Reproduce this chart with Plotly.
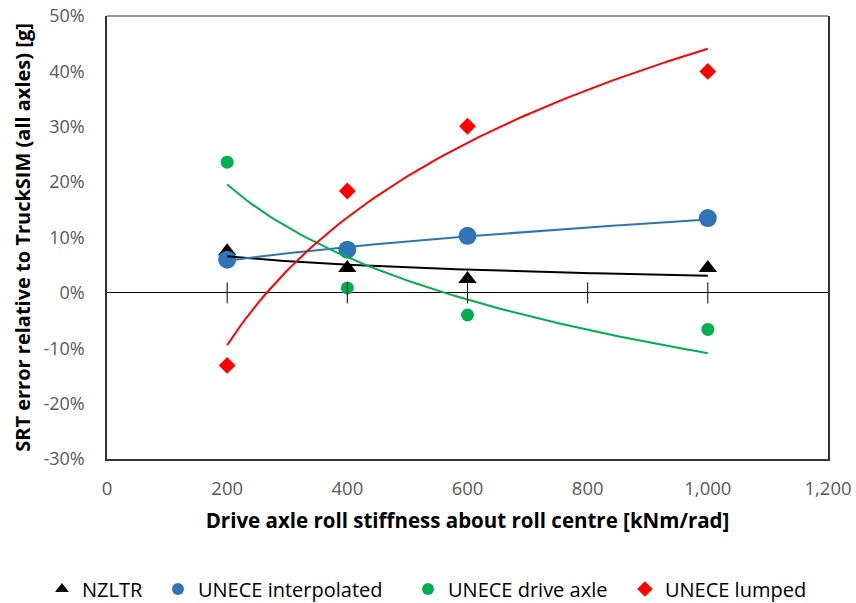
import numpy as np
import plotly.graph_objects as go

# Data (SRT error, %)
stiffness = [200, 400, 600, 1000]
nzltr = [7.5, 4.5, 2.5, 4.5]
unece_interp = [6.0, 7.8, 10.3, 13.5]
unece_drive = [23.6, 0.9, -4.0, -6.6]
unece_lumped = [-13.1, 18.4, 30.1, 40.0]

series_names = ["NZLTR", "UNECE interpolated", "UNECE drive axle", "UNECE lumped"]
trend_types = ["log", "power", "log", "log"]

x_ticks = [0, 200, 400, 600, 800, 1000, 1200]
x_tick_labels = ["0", "200", "400", "600", "800", "1,000", "1,200"]
y_ticks = [-30, -20, -10, 0, 10, 20, 30, 40, 50]
y_tick_labels = [f"{v}%" for v in y_ticks]

colors = ["#000000", "#2E75B6", "#00B050", "#FF0000"]
symbols = ["triangle-up", "circle", "circle", "diamond"]
sizes = [16, 18, 13, 13]
legend_ids = ["legend", "legend2", "legend3", "legend4"]
legend_x = [-0.0902, 0.0707, 0.4175, 0.7184]

FONT = "'Open Sans', Lato, sans-serif"


def trend(xs, ys, kind):
    xs = np.asarray(xs, float)
    ys = np.asarray(ys, float)
    xx = np.linspace(xs.min(), xs.max(), 100)
    if kind == "power":
        b, a = np.polyfit(np.log(xs), np.log(ys), 1)
        return xx, np.exp(a) * xx ** b
    a, b = np.polyfit(np.log(xs), ys, 1)
    return xx, a * np.log(xx) + b


data = [nzltr, unece_interp, unece_drive, unece_lumped]
fig = go.Figure()

for name, ys, c, s, sz, lg in zip(series_names, data, colors, symbols, sizes, legend_ids):
    fig.add_trace(go.Scatter(
        x=stiffness, y=ys, mode="markers", name=name, legend=lg,
        marker=dict(symbol=s, size=sz, color=c, line=dict(width=0)),
    ))

for ys, c, k in zip(data, colors, trend_types):
    xx, yy = trend(stiffness, ys, k)
    fig.add_trace(go.Scatter(x=xx, y=yy, mode="lines", showlegend=False,
                             line=dict(color=c, width=2), hoverinfo="skip"))

# tick marks crossing the zero line
fig.add_trace(go.Scatter(
    x=x_ticks[1:-1], y=[0] * (len(x_ticks) - 2), mode="markers", showlegend=False,
    marker=dict(symbol="line-ns", size=15, line=dict(color="#000000", width=1)),
    hoverinfo="skip",
))

legend_common = dict(orientation="h", xanchor="left", yref="container",
                     y=0.0232, yanchor="middle",
                     font=dict(size=20, color="#000000"), itemsizing="constant",
                     bgcolor="rgba(0,0,0,0)", borderwidth=0)

fig.update_layout(
    width=856, height=603,
    margin=dict(l=107, r=28, t=16, b=144),
    paper_bgcolor="white", plot_bgcolor="white",
    font=dict(family=FONT, size=18, color="#000000"),
    showlegend=True,
    xaxis=dict(range=[0, 1200], tickvals=x_ticks, ticktext=x_tick_labels,
               showgrid=False, zeroline=False, automargin=False,
               ticklabeloverflow="allow",
               showline=True, linecolor="#333333", linewidth=1.5,
               ticks="outside", ticklen=12, tickcolor="rgba(0,0,0,0)",
               tickfont=dict(size=18.5, color="#595959"),
               title=dict(text="<b>Drive axle roll stiffness about roll centre [kNm/rad]</b>",
                          font=dict(size=20.5, color="#000000"), standoff=15)),
    yaxis=dict(range=[-30, 50], tickvals=y_ticks, ticktext=y_tick_labels,
               showgrid=False, zeroline=True, zerolinecolor="#000000", zerolinewidth=1,
               automargin=False, ticklabeloverflow="allow",
               showline=True, mirror=True, linecolor="#333333", linewidth=1.5,
               ticks="outside", ticklen=17, tickcolor="rgba(0,0,0,0)",
               tickfont=dict(size=18, color="#595959"),
               title=dict(text="<b>SRT error relative to TruckSIM (all axles) [g]</b>",
                          font=dict(size=20, color="#000000"), standoff=7)),
    shapes=[dict(type="line", xref="paper", yref="paper", x0=0, x1=1, y0=1, y1=1,
                 line=dict(color="#767676", width=1.5))],
)
for lg, lx in zip(legend_ids, legend_x):
    fig.update_layout({lg: dict(legend_common, x=lx)})

fig.write_html("out.html",
               config={"displayModeBar": False},
               post_script="document.body.style.margin='0';document.body.style.overflow='hidden';")
